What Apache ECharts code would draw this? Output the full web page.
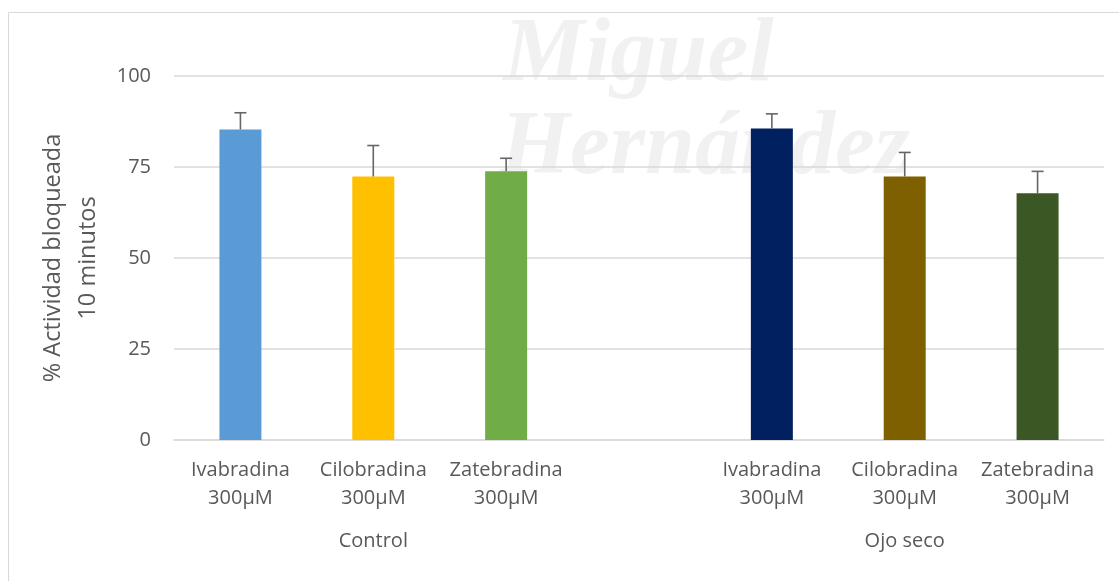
<!DOCTYPE html>
<html>
<head>
<meta charset="utf-8">
<script src="https://cdn.jsdelivr.net/npm/echarts@6/dist/echarts.min.js"></script>
<style>
  html, body { margin: 0; padding: 0; background: #ffffff; }
  #chart { width: 1119px; height: 581px; }
</style>
</head>
<body>
<div id="chart"></div>
<script>
// Category slots: three drugs per group, one empty slot as a spacer between groups
const drugNames = ['Ivabradina', 'Cilobradina', 'Zatebradina', '', 'Ivabradina', 'Cilobradina', 'Zatebradina'];
const doseLabel = ['300µM', '300µM', '300µM', '', '300µM', '300µM', '300µM'];
const groupLabels = ['', 'Control', '', '', '', 'Ojo seco', ''];

// % activity blocked after 10 minutes (mean) and its error (upper bar only)
const meanValues = [85.3, 72.4, 73.8, null, 85.6, 72.4, 67.8];
const errorValues = [4.6, 8.5, 3.6, null, 4.0, 6.6, 6.0];
const barColors = ['#5B9BD5', '#FFC000', '#70AD47', null, '#002060', '#7F6000', '#3A5724'];

const yTicks = { min: 0, max: 100, interval: 25 };

const categories = drugNames.map((d, i) => d ? d + '\n' + doseLabel[i] : '');

const barData = meanValues.map((v, i) =>
  v == null ? '-' : { value: v, itemStyle: { color: barColors[i] } });

const errData = [];
meanValues.forEach((v, i) => {
  if (v != null) errData.push([i, v, errorValues[i]]);
});

const FONT = '"Open Sans", "Noto Sans", sans-serif';
const TXT = '#595959';

const chart = echarts.init(document.getElementById('chart'), null, { renderer: 'canvas' });

chart.setOption({
  animation: false,
  backgroundColor: '#ffffff',
  textStyle: { fontFamily: FONT },
  graphic: [
    // chart frame
    {
      type: 'rect', z: -10, silent: true,
      shape: { x: 8.5, y: 12.5, width: 1300, height: 800 },
      style: { fill: null, stroke: '#d9d9d9', lineWidth: 1 }
    },
    // faint institutional watermark behind the plot
    {
      type: 'text', z: -5, silent: true, left: 503, top: 10,
      style: {
        text: 'Miguel', fill: 'rgba(0,0,0,0.055)',
        font: 'italic bold 92px "Liberation Serif", "DejaVu Serif", serif'
      }
    },
    {
      type: 'text', z: -5, silent: true, left: 500, top: 105,
      style: {
        text: 'Hernández', fill: 'rgba(0,0,0,0.055)',
        font: 'italic bold 90px "Liberation Serif", "DejaVu Serif", serif'
      }
    }
  ],
  grid: { left: 174, right: 15, top: 76, bottom: 141, containLabel: false },
  xAxis: [
    {
      type: 'category',
      data: categories,
      position: 'bottom',
      axisLine: { show: true, lineStyle: { color: '#d9d9d9', width: 1.5 } },
      axisTick: { show: false },
      axisLabel: {
        interval: 0, margin: 16, color: TXT, fontFamily: FONT,
        fontSize: 20, lineHeight: 28
      }
    },
    {
      type: 'category',
      data: groupLabels,
      position: 'bottom',
      axisLine: { show: false },
      axisTick: { show: false },
      axisLabel: {
        interval: 0, margin: 87, color: TXT, fontFamily: FONT,
        fontSize: 20, lineHeight: 28
      }
    }
  ],
  yAxis: {
    type: 'value',
    min: yTicks.min, max: yTicks.max, interval: yTicks.interval,
    name: '% Actividad bloqueada\n10 minutos',
    nameLocation: 'middle',
    nameRotate: 90,
    nameGap: 55,
    nameTextStyle: { color: TXT, fontFamily: FONT, fontSize: 23.5, lineHeight: 35 },
    axisLine: { show: false },
    axisTick: { show: false },
    axisLabel: { color: TXT, fontFamily: FONT, fontSize: 20, margin: 23 },
    splitLine: { lineStyle: { color: '#d9d9d9', width: 1.5 } }
  },
  series: [
    {
      type: 'bar',
      xAxisIndex: 0,
      data: barData,
      barWidth: 42
    },
    {
      type: 'custom',
      xAxisIndex: 0,
      z: 5,
      data: errData,
      renderItem: function (params, api) {
        const base = api.coord([api.value(0), api.value(1)]);
        const top = api.coord([api.value(0), api.value(1) + api.value(2)]);
        const half = 6;
        const style = { stroke: '#666666', lineWidth: 1.6 };
        return {
          type: 'group',
          children: [
            { type: 'line', shape: { x1: base[0], y1: base[1], x2: top[0], y2: top[1] }, style: style },
            { type: 'line', shape: { x1: top[0] - half, y1: top[1], x2: top[0] + half, y2: top[1] }, style: style }
          ]
        };
      }
    }
  ]
});
</script>
</body>
</html>
